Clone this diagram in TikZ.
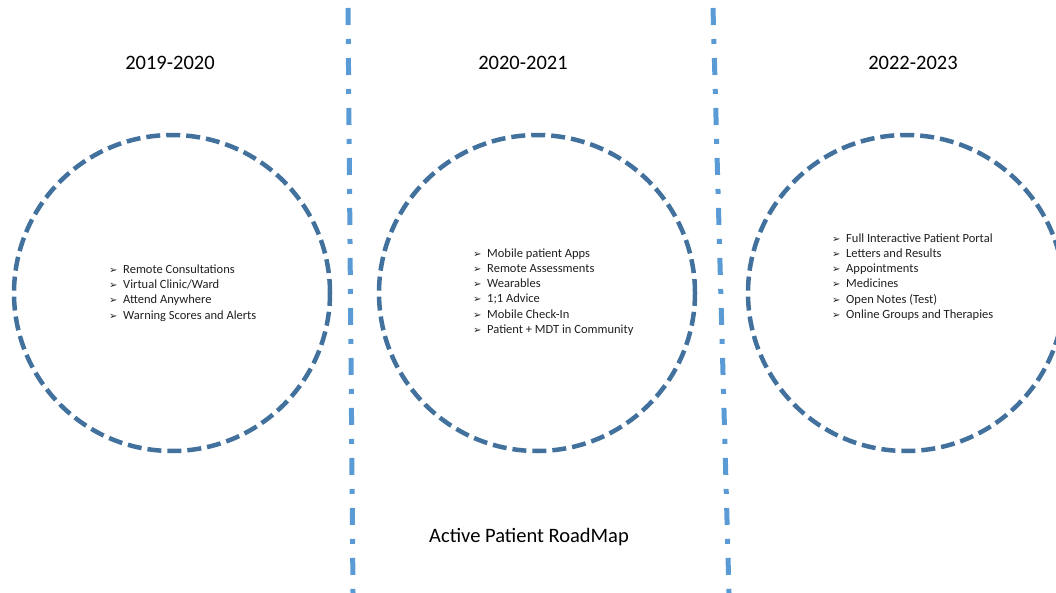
\documentclass[tikz,border=0pt]{standalone}
\usepackage{fontspec}
\setmainfont{Carlito}
\newfontfamily\dingfont{DejaVu Sans}
\usepackage{xcolor}

\definecolor{ringblue}{HTML}{41719C}
\definecolor{lineblue}{HTML}{5B9BD5}

\newcommand{\arr}{\makebox[14pt][l]{\dingfont\fontsize{10}{10}\selectfont ➢}}

\tikzset{
  ring/.style={circle, draw=ringblue, line width=4.5pt, dash pattern=on 14pt off 6pt,
    minimum size=316pt, inner sep=0pt},
  divider/.style={draw=lineblue, line width=5pt, dash pattern=on 17pt off 14pt on 5pt off 14pt},
  year/.style={font=\fontsize{20.5}{24}\selectfont, text=black},
  items/.style={anchor=west, align=left, font=\fontsize{12.5}{15.3}\selectfont, text=black!88, inner sep=0pt},
}

\begin{document}
\begin{tikzpicture}[x=1pt,y=-1pt]
    \useasboundingbox (0,0) rectangle (1056,593);
    \clip (0,0) rectangle (1056,593);
    % separators
    \coordinate (d1top) at (348,8);
    \coordinate (d1bot) at (353,593);
    \coordinate (d2top) at (713,8);
    \coordinate (d2bot) at (729,593);
    \draw[divider] (d1top)--(d1bot);
    \draw[divider] (d2top)--(d2bot);
    % years
    \node[year] (y1) at (170,63) {2019-2020};
    \node[year] (y2) at (523,63) {2020-2021};
    \node[year] (y3) at (913,63) {2022-2023};
    % rings
    \node[ring] (c1) at (172,293) {};
    \node[ring] (c2) at (537,293) {};
    \node[ring] (c3) at (906,293) {};
    % lists
    \node[items] (l1) at (109,293) {\arr Remote Consultations\\ \arr Virtual Clinic/Ward\\
        \arr Attend Anywhere\\ \arr Warning Scores and Alerts};
    \node[items] (l2) at (473,292) {\arr Mobile patient Apps\\ \arr Remote Assessments\\
        \arr Wearables\\ \arr 1;1 Advice\\ \arr Mobile Check-In\\ \arr Patient + MDT in Community};
    \node[items] (l3) at (832,277) {\arr Full Interactive Patient Portal\\ \arr Letters and Results\\
        \arr Appointments\\ \arr Medicines\\ \arr Open Notes (Test)\\ \arr Online Groups and Therapies};
    \node[year] (title) at (529,537) {Active Patient RoadMap};
\end{tikzpicture}
\end{document}
